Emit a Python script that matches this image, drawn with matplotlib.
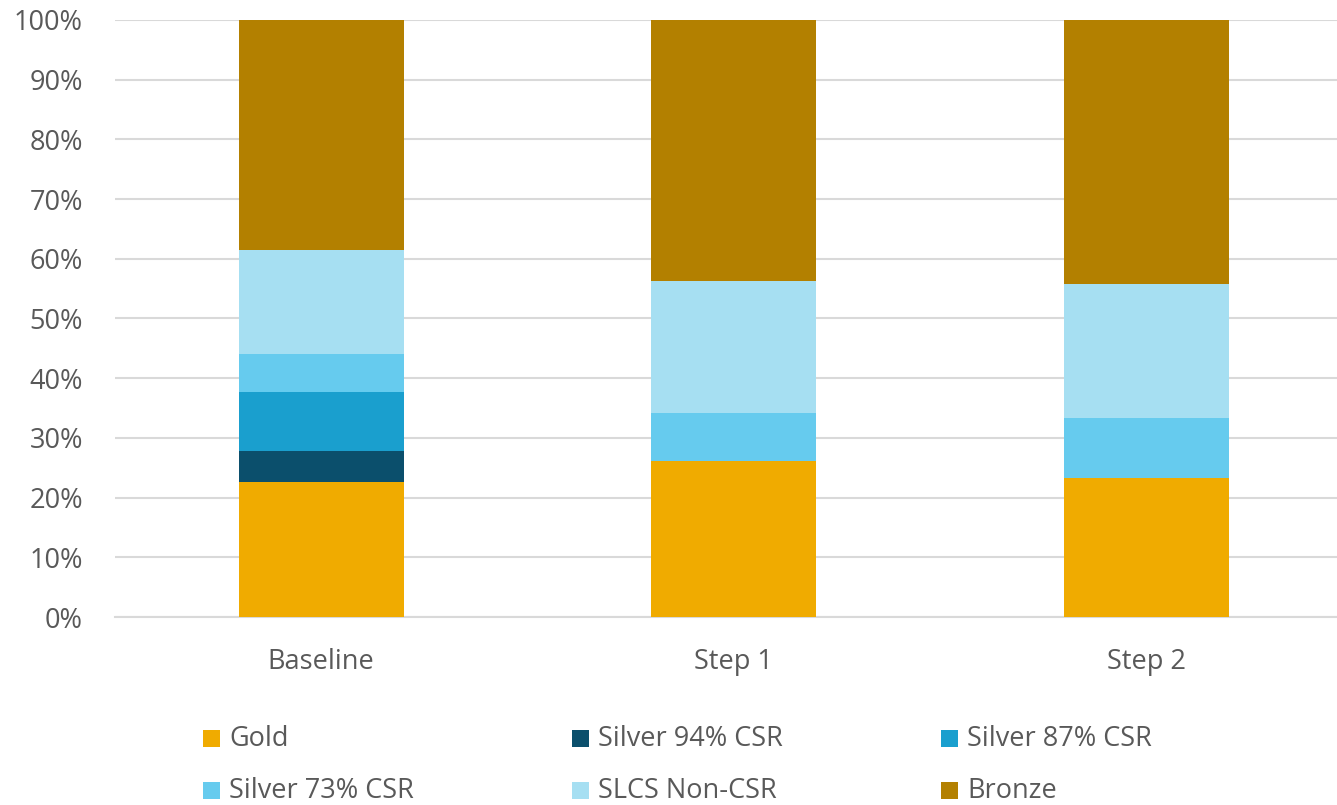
import matplotlib
matplotlib.use("Agg")
import matplotlib.pyplot as plt
from matplotlib.patches import Rectangle
import numpy as np

categories = ["Baseline", "Step 1", "Step 2"]
series_names = ["Gold", "Silver 94% CSR", "Silver 87% CSR",
                "Silver 73% CSR", "SLCS Non-CSR", "Bronze"]
gold = [22.6, 26.2, 23.2]
silver_94 = [5.2, 0.0, 0.0]
silver_87 = [9.9, 0.0, 0.0]
silver_73 = [6.4, 8.0, 10.2]
slcs_non_csr = [17.4, 22.0, 22.3]
bronze = [38.5, 43.8, 44.3]
series_values = [gold, silver_94, silver_87, silver_73, slcs_non_csr, bronze]
colors = ["#F0AB00", "#0B4F6C", "#1A9FCE", "#66CBEE", "#A6DFF2", "#B38000"]

plt.rcParams["font.family"] = ["Open Sans", "DejaVu Sans"]
text_color = "#595959"
grid_color = "#D9D9D9"
fs = 19.5

W, H = 1337, 805
fig = plt.figure(figsize=(W / 100, H / 100), dpi=100)
ax = fig.add_axes([115 / W, 1 - 617 / H, 1237.5 / W, 597 / H])

x = np.arange(len(categories))
bottom = np.zeros(len(categories))
for vals, col in zip(series_values, colors):
    v = np.array(vals)
    ax.bar(x, v, bottom=bottom, width=0.40, color=col, linewidth=0, zorder=3)
    bottom += v

ax.set_xlim(-0.5, len(categories) - 0.5)
ax.set_ylim(0, 100)
ax.set_yticks(np.arange(0, 101, 10))
ax.set_yticklabels([f"{t}%" for t in range(0, 101, 10)])
ax.set_xticks(x)
ax.set_xticklabels(categories)
ax.tick_params(axis="both", length=0, labelsize=fs, colors=text_color)
ax.tick_params(axis="x", pad=22)
ax.tick_params(axis="y", pad=23)
ax.grid(axis="y", color=grid_color, linewidth=1.5, zorder=0)
for s in ["top", "right", "left"]:
    ax.spines[s].set_visible(False)
ax.spines["bottom"].set_color(grid_color)
ax.spines["bottom"].set_linewidth(1.5)

# legend laid out in a 3-column grid below the plot
for i, (name, col) in enumerate(zip(series_names, colors)):
    c, r = i % 3, i // 3
    px = 203 + c * 369
    py = 739 + r * 52
    fig.patches.append(Rectangle((px / W, 1 - (py + 8) / H), 17 / W, 17 / H,
                                 transform=fig.transFigure, color=col,
                                 linewidth=0))
    fig.text((px + 26) / W, 1 - py / H, name, fontsize=fs,
             color=text_color, va="center", ha="left")

fig.savefig("out.png", dpi=100)
